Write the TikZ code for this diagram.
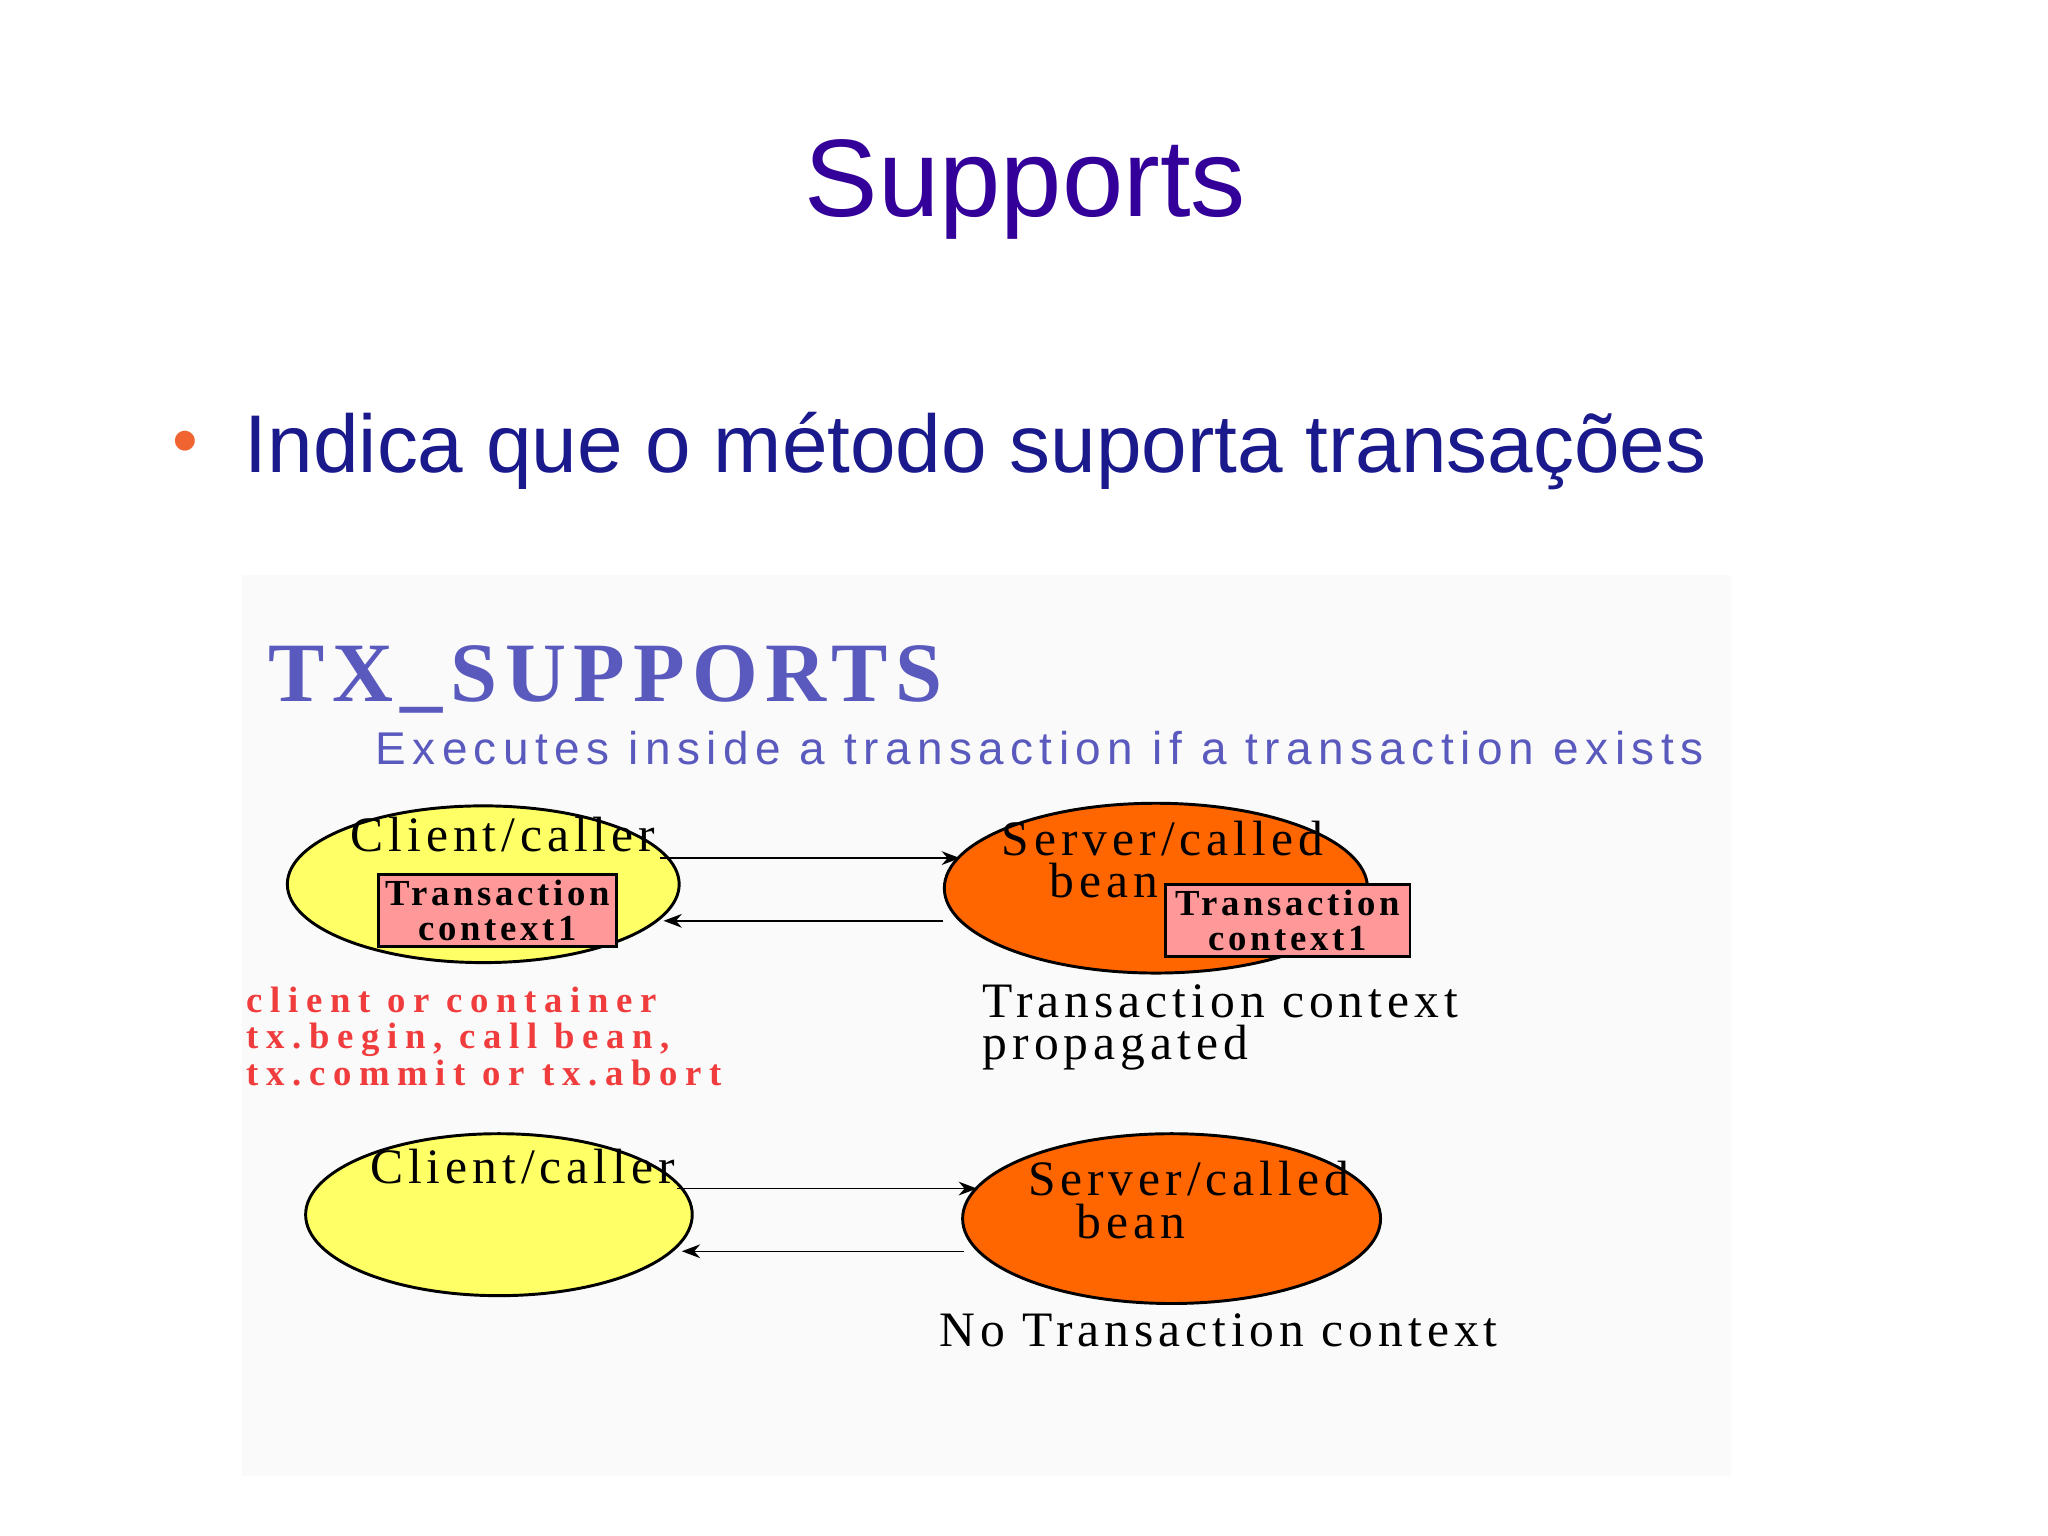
\documentclass[tikz,border=0pt]{standalone}
\usepackage{fontspec}
\setmainfont{Liberation Serif}
\newfontfamily\sansf{Liberation Sans}
\newfontfamily\lblserif[LetterSpace=10]{Liberation Serif}
\newfontfamily\redserif[LetterSpace=21]{Liberation Serif}
\newfontfamily\txserif[LetterSpace=9]{Liberation Serif}
\newfontfamily\widesans[LetterSpace=14]{Liberation Sans}
\usetikzlibrary{arrows.meta}
\definecolor{titleblue}{RGB}{51,0,153}
\definecolor{navy}{RGB}{26,26,140}
\definecolor{bulletor}{RGB}{240,100,50}
\definecolor{slate}{RGB}{90,90,190}
\definecolor{yel}{RGB}{255,255,102}
\definecolor{ora}{RGB}{255,102,0}
\definecolor{pink}{RGB}{255,153,153}
\definecolor{redt}{RGB}{240,60,60}
\tikzset{
 ctx/.style={draw=black,thick,fill=pink,minimum width=182*0.125mm,minimum height=55*0.125mm,align=center,inner sep=0pt,font=\lblserif\fontsize{10}{9.5}\selectfont\bfseries},
 lbl/.style={font=\lblserif\fontsize{13.5}{13}\selectfont,inner sep=0pt,text height=9pt,text depth=2.5pt},
 arr/.style={-{Stealth[length=5pt]},thin},
 red/.style={anchor=west,text=redt,font=\redserif\fontsize{10}{10}\selectfont\bfseries,inner sep=0pt,text height=7pt,text depth=2pt}
}
\begin{document}
\begin{tikzpicture}[x=0.125mm,y=-0.125mm]
\useasboundingbox[fill=white] (0,0) rectangle (1568,1176);
\fill[gray!4] (185,440) rectangle (1325,1130);
\node[text=titleblue,font=\sansf\fontsize{30}{30}\selectfont] (title) at (785,145) {Supports};
\node[text=bulletor,font=\sansf\fontsize{20}{20}\selectfont] (dot) at (142,343) {•};
\node[anchor=west,text=navy,font=\sansf\fontsize{22.3}{22}\selectfont,inner sep=0pt] (bul) at (187,345) {Indica que o método suporta transações};
\node[anchor=west,text=slate,font=\txserif\fontsize{23}{23}\selectfont\bfseries,inner sep=0pt] (tx) at (205,520) {TX\_SUPPORTS};
\node[anchor=west,text=slate,font=\widesans\fontsize{12.5}{12}\selectfont,inner sep=0pt] (ex) at (287,573) {Executes inside a transaction if a transaction exists};
% top row
\fill[yel,draw=black,thick] (370,677) ellipse (150 and 60);
\node[lbl] (c1) at (385,643) {Client/caller};
\node[ctx] (t1) at (381,697) {Transaction\\context1};
\fill[ora,draw=black,thick] (885,680) ellipse (162 and 65);
\node[lbl] (s1) at (890,646) {Server/called};
\node[lbl] (b1) at (845,678) {bean};
\node[ctx,minimum width=187*0.125mm] (t2) at (986,705) {Transaction\\context1};
\coordinate (a1s) at (505,657); \coordinate (a1e) at (735,657);
\coordinate (a2s) at (722,705); \coordinate (a2e) at (508,705);
\draw[arr] (a1s) -- (a1e);
\draw[arr] (a2s) -- (a2e);
\node[red] (r1) at (188,768) {client or container};
\node[red] (r2) at (188,796) {tx.begin, call bean,};
\node[red] (r3) at (188,824) {tx.commit or tx.abort};
\node[lbl,anchor=west] (p1) at (752,770) {Transaction context};
\node[lbl,anchor=west] (p2) at (752,802) {propagated};
% bottom row
\fill[yel,draw=black,thick] (382,930) ellipse (148 and 62);
\node[lbl] (c2) at (400,897) {Client/caller};
\fill[ora,draw=black,thick] (897,933) ellipse (160 and 65);
\node[lbl] (s2) at (910,906) {Server/called};
\node[lbl] (b2) at (866,939) {bean};
\coordinate (a3s) at (518,910); \coordinate (a3e) at (748,910);
\coordinate (a4s) at (738,958); \coordinate (a4e) at (522,958);
\draw[arr] (a3s) -- (a3e);
\draw[arr] (a4s) -- (a4e);
\node[lbl] (nt) at (933,1022) {No Transaction context};
\end{tikzpicture}
\end{document}
